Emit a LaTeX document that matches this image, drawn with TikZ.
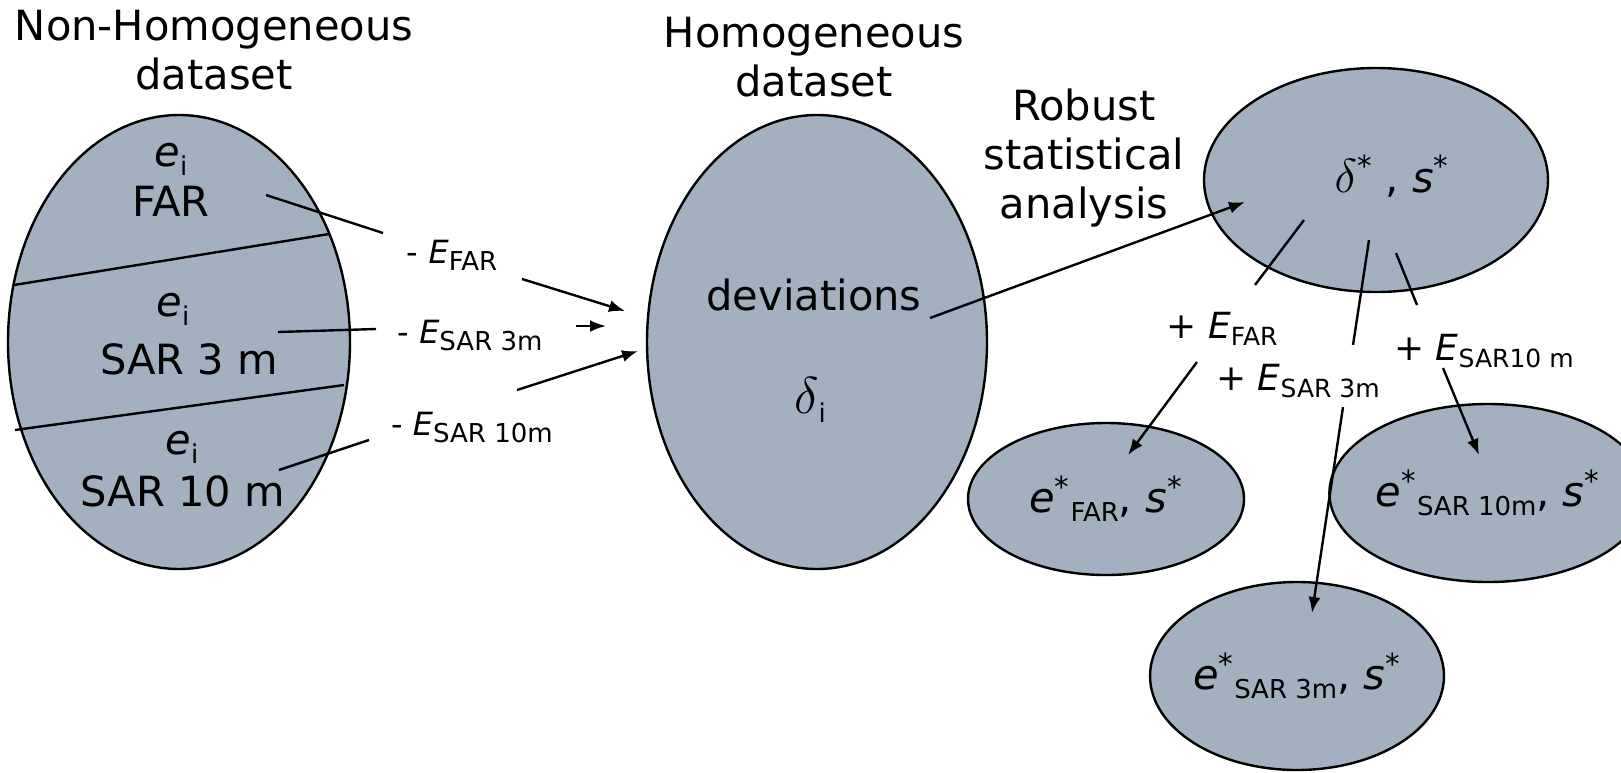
\documentclass[tikz,border=0pt]{standalone}
\usepackage{fontspec}
\setmainfont{DejaVu Sans}
\usetikzlibrary{shapes.geometric,arrows.meta}

\definecolor{setfill}{RGB}{162,176,192}
\newcommand{\bigtx}{\fontsize{20.8}{24.5}\selectfont}
\newcommand{\minustx}{\fontsize{16}{19}\selectfont}
\newcommand{\plustx}{\fontsize{18}{21}\selectfont}
\newcommand{\lowtx}[2]{\raisebox{-0.22em}{\fontsize{#1}{#1}\selectfont #2}}

\begin{document}
\begin{tikzpicture}[x=0.5pt, y=-0.5pt, line width=1.2pt,
  >={Latex[length=8pt,width=6pt]},
  set/.style={ellipse, draw, fill=setfill, inner sep=0pt, outer sep=0pt},
  every node/.style={font=\bigtx}]
  \useasboundingbox (0,0) rectangle (1621,772);

  % data sets
  \node[set, minimum width=171pt, minimum height=227pt] (nonhom) at (179,342) {};
  \node[set, minimum width=170pt, minimum height=227pt] (hom) at (817,342) {};
  \node[set, minimum width=172pt, minimum height=112pt] (robust) at (1376,180) {};
  \node[set, minimum width=138pt, minimum height=76pt] (outFAR) at (1106,499)
    {\textit{e}\textsuperscript{*}\lowtx{13}{FAR}, \textit{s}\textsuperscript{*}};
  \node[set, minimum width=145pt, minimum height=94pt] (outSAR3) at (1297,676)
    {\textit{e}\textsuperscript{*}\lowtx{13}{SAR 3m}, \textit{s}\textsuperscript{*}};
  \node[set, minimum width=132pt, minimum height=89pt] (outSAR10) at (1488,493)
    {\textit{e}\textsuperscript{*}\lowtx{13}{SAR 10m}, \textit{s}\textsuperscript{*}};

  \draw (14,285) -- (329,234);
  \draw (15,430) -- (344,385);

  \node[align=center, anchor=base] (titleL) at (214,89) {Non-Homogeneous\\dataset};
  \node[align=center, anchor=base] (titleM) at (814,96) {Homogeneous\\dataset};
  \node[align=center, anchor=base] (titleR) at (1084,218) {Robust\\statistical\\analysis};

  \node[anchor=base] (ei1) at (171,166) {\textit{e}\lowtx{13}{i}};
  \node[anchor=base] (far) at (171,216) {FAR};
  \node[anchor=base] (ei2) at (173,316) {\textit{e}\lowtx{13}{i}};
  \node[anchor=base] (sar3) at (189,374) {SAR 3 m};
  \node[anchor=base] (ei3) at (182,454) {\textit{e}\lowtx{13}{i}};
  \node[anchor=base] (sar10) at (183,506) {SAR 10 m};

  \node[anchor=base] (dev) at (814,310) {deviations};
  \node[anchor=base] (deli) at (810,413) {\scalebox{1.25}{$\delta$}\lowtx{13}{i}};
  \node[anchor=base] (dstar) at (1392,192)
    {\scalebox{1.15}{$\delta$}\textsuperscript{*} , \textit{s}\textsuperscript{*}};

  % corrections
  \node[anchor=base, font=\minustx] (mFAR) at (452,263) {- \textit{E}\lowtx{13}{FAR}};
  \node[anchor=base, font=\minustx] (mSAR3) at (470,343) {- \textit{E}\lowtx{13}{SAR 3m}};
  \node[anchor=base, font=\minustx] (mSAR10) at (472,435) {- \textit{E}\lowtx{13}{SAR 10m}};
  \node[anchor=base, font=\plustx] (pFAR) at (1222,338) {+ \textit{E}\lowtx{12.5}{FAR}};
  \node[anchor=base, font=\plustx] (pSAR3) at (1298,390) {+ \textit{E}\lowtx{12.5}{SAR 3m}};
  \node[anchor=base, font=\plustx] (pSAR10) at (1484,360) {+ \textit{E}\lowtx{12.5}{SAR10 m}};

  \coordinate (a1) at (266,195);  \coordinate (a2) at (383,233);
  \coordinate (a3) at (522,279);  \coordinate (a4) at (625,311);
  \coordinate (b1) at (278,332);  \coordinate (b2) at (376,329);
  \coordinate (b3) at (576,326);  \coordinate (b4) at (606,326);
  \coordinate (c1) at (279,470);  \coordinate (c2) at (369,440);
  \coordinate (c3) at (517,390);  \coordinate (c4) at (638,351);
  \coordinate (d1) at (930,318);  \coordinate (d2) at (1245,202);
  \coordinate (f1) at (1304,220); \coordinate (f2) at (1255,285);
  \coordinate (f3) at (1197,362); \coordinate (f4) at (1128,455);
  \coordinate (g1) at (1369,240); \coordinate (g2) at (1353,345);
  \coordinate (g3) at (1343,407); \coordinate (g4) at (1312,613);
  \coordinate (h1) at (1396,253); \coordinate (h2) at (1417,305);
  \coordinate (h3) at (1443,368); \coordinate (h4) at (1479,455);

  \draw (a1) -- (a2);  \draw[->] (a3) -- (a4);
  \draw (b1) -- (b2);  \draw[->] (b3) -- (b4);
  \draw (c1) -- (c2);  \draw[->] (c3) -- (c4);
  \draw[->] (d1) -- (d2);
  \draw (f1) -- (f2);  \draw[->] (f3) -- (f4);
  \draw (g1) -- (g2);  \draw[->] (g3) -- (g4);
  \draw (h1) -- (h2);  \draw[->] (h3) -- (h4);
\end{tikzpicture}
\end{document}
